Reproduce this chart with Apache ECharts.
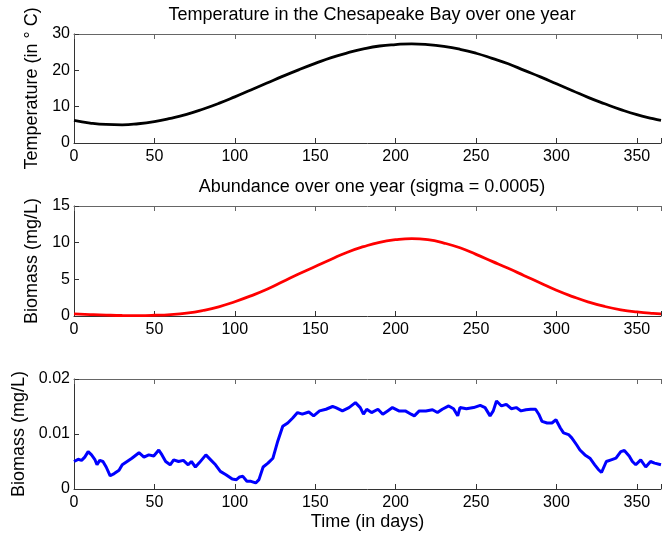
<!DOCTYPE html>
<html>
<head>
<meta charset="utf-8">
<script src="https://cdn.jsdelivr.net/npm/echarts@6/dist/echarts.min.js"></script>
<style>
  html, body { margin: 0; padding: 0; background: #fff; }
  #chart { width: 664px; height: 539px; }
</style>
</head>
<body>
<div id="chart"></div>
<script>
// Sampled days for the smooth seasonal curves
const seasonDays = [0,10,20,30,40,50,60,70,80,90,100,110,120,130,140,150,160,170,180,
  190,200,210,220,230,240,250,260,270,280,290,300,310,320,330,340,350,360,365];

// Water temperature (deg C)
const temperature = [6.2,5.5,5.1,5.0,5.3,5.9,6.8,7.9,9.3,10.9,12.7,14.6,16.5,18.4,20.2,
  21.9,23.5,24.8,25.9,26.7,27.1,27.3,27.1,26.6,25.8,24.7,23.3,21.8,20.0,18.2,16.3,14.4,
  12.5,10.8,9.2,7.8,6.7,6.2];

// Deterministic biomass (mg/L)
const biomass = [0.3,0.2,0.12,0.07,0.06,0.1,0.2,0.4,0.75,1.25,1.95,2.75,3.65,4.7,5.75,
  6.75,7.75,8.7,9.45,10.05,10.4,10.55,10.4,9.95,9.3,8.4,7.45,6.5,5.5,4.5,3.5,2.65,1.9,
  1.3,0.85,0.55,0.35,0.3];

// Stochastic biomass run: sample days and values (mg/L)
const noisyDays = [0,2.6,4.7,6.7,8.8,10.9,12.9,14.3,16,18,20,22.5,25,28,30,33,36,40.4,
  43.5,46.5,49.6,52.7,54.7,57,59.8,62,65,68,71,73,75.5,78,82,85,88,91,94.5,98.4,101,103,
  105,107.5,110,113,115,117.6,120.6,123.7,126.7,129.8,132.9,136,139,142,146,149,152.7,
  156.7,160.8,162.8,166.9,171,175,178,180,182,185,189,192,195,198,202,206,209.6,211.6,
  214.7,218.8,222.9,226,229,233,236,238.6,240,244,248.5,252.6,255.6,258.7,260.7,262.7,
  265.8,268.8,271.9,275,278,281,284,287,289,291,294.2,297.2,299.7,302.4,304.4,307.5,
  309.5,312.6,314.6,317.7,320.8,323.8,325.9,328,331,334,337,340,342.2,345.2,347.2,349.3,
  352.4,355.5,358.5,361,365];
const noisyBiomass = [0.0050,0.0054,0.0052,0.0058,0.0068,0.0062,0.0054,0.0044,0.0052,
  0.0050,0.0040,0.0024,0.0028,0.0034,0.0044,0.0050,0.0056,0.0066,0.0058,0.0062,0.0060,
  0.0071,0.0062,0.0050,0.0044,0.0053,0.0050,0.0052,0.0044,0.0050,0.0040,0.0048,0.0062,
  0.0053,0.0044,0.0032,0.0026,0.0018,0.0017,0.0022,0.0023,0.0014,0.0014,0.0011,0.0017,
  0.0040,0.0047,0.0056,0.0087,0.0114,0.0120,0.0129,0.0139,0.0136,0.0140,0.0133,0.0142,
  0.0145,0.0150,0.0148,0.0142,0.0148,0.0157,0.0148,0.0136,0.0145,0.0139,0.0145,0.0136,
  0.0142,0.0148,0.0142,0.0142,0.0136,0.0133,0.0142,0.0142,0.0144,0.0139,0.0145,0.0151,
  0.0146,0.0133,0.0148,0.0146,0.0148,0.0152,0.0148,0.0133,0.0142,0.0160,0.0151,0.0154,
  0.0146,0.0148,0.0142,0.0144,0.0145,0.0145,0.0136,0.0123,0.0120,0.0120,0.0126,0.0111,
  0.0102,0.0099,0.0093,0.0080,0.0071,0.0062,0.0056,0.0044,0.0036,0.0030,0.0050,0.0053,
  0.0056,0.0068,0.0070,0.0060,0.0050,0.0044,0.0053,0.0040,0.0050,0.0047,0.0044];

// Axis tick values
const dayTicks = [0, 50, 100, 150, 200, 250, 300, 350];
const dayMax = 365;

const FONT = 'Liberation Sans, Arial, Helvetica, sans-serif';
const AXIS_COLOR = '#333';
const TICK_SIZE = 16;
const LABEL_SIZE = 18;

const pair = (xs, ys) => xs.map((x, i) => [x, ys[i]]);

const grids = [
  { left: 74, top: 34, width: 597, height: 109 },
  { left: 74, top: 206, width: 597, height: 110 },
  { left: 74, top: 379, width: 597, height: 110 }
];

function bottomAxis(gridIndex, extra) {
  return Object.assign({
    type: 'value', gridIndex, position: 'bottom', min: 0, max: dayMax, interval: 50,
    axisLine: { show: true, lineStyle: { color: AXIS_COLOR, width: 1 } },
    axisTick: { show: true, inside: true, length: 5, lineStyle: { color: AXIS_COLOR } },
    axisLabel: {
      color: '#000', fontSize: TICK_SIZE, fontFamily: FONT, margin: 6,
      formatter: v => (dayTicks.indexOf(v) >= 0 ? String(v) : '')
    },
    splitLine: { show: false }
  }, extra || {});
}

function topAxis(gridIndex) {
  return {
    type: 'value', gridIndex, position: 'top', min: 0, max: dayMax, interval: 50,
    axisLine: { show: true, lineStyle: { color: '#666', width: 1 } },
    axisTick: { show: true, inside: true, length: 5, lineStyle: { color: '#666' } },
    axisLabel: { show: false },
    splitLine: { show: false }
  };
}

function leftAxis(gridIndex, max, interval, name, nameGap) {
  return {
    type: 'value', gridIndex, min: 0, max, interval,
    name, nameLocation: 'middle', nameGap,
    nameTextStyle: { color: '#000', fontSize: LABEL_SIZE, fontFamily: FONT },
    axisLine: { show: true, lineStyle: { color: AXIS_COLOR, width: 1 } },
    axisTick: { show: true, inside: true, length: 5, lineStyle: { color: AXIS_COLOR } },
    axisLabel: { color: '#000', fontSize: TICK_SIZE, fontFamily: FONT, margin: 4 },
    splitLine: { show: false }
  };
}

const option = {
  backgroundColor: '#fff',
  animation: false,
  grid: grids,
  xAxis: [
    bottomAxis(0), topAxis(0),
    bottomAxis(1), topAxis(1),
    bottomAxis(2, {
      name: 'Time (in days)', nameLocation: 'middle', nameGap: 24,
      nameTextStyle: { color: '#000', fontSize: LABEL_SIZE, fontFamily: FONT }
    }), topAxis(2)
  ],
  yAxis: [
    leftAxis(0, 30, 10, 'Temperature (in \u00b0 C)', 29),
    leftAxis(1, 15, 5, 'Biomass (mg/L)', 29),
    leftAxis(2, 0.02, 0.01, 'Biomass (mg/L)', 42)
  ],
  graphic: [
    { type: 'text', x: 372, y: 15, style: {
        text: 'Temperature in the Chesapeake Bay over one year',
        font: LABEL_SIZE + 'px ' + FONT, fill: '#000', textAlign: 'center', textVerticalAlign: 'middle' } },
    { type: 'text', x: 372, y: 187, style: {
        text: 'Abundance over one year (sigma = 0.0005)',
        font: LABEL_SIZE + 'px ' + FONT, fill: '#000', textAlign: 'center', textVerticalAlign: 'middle' } }
  ],
  series: [
    { type: 'line', xAxisIndex: 0, yAxisIndex: 0, data: pair(seasonDays, temperature),
      smooth: true, showSymbol: false, lineStyle: { color: '#000', width: 2.8 } },
    { type: 'line', xAxisIndex: 2, yAxisIndex: 1, data: pair(seasonDays, biomass),
      smooth: true, showSymbol: false, lineStyle: { color: '#f00', width: 2.8 } },
    { type: 'line', xAxisIndex: 4, yAxisIndex: 2, data: pair(noisyDays, noisyBiomass),
      showSymbol: false, lineStyle: { color: '#00f', width: 3 } }
  ]
};

const chart = echarts.init(document.getElementById('chart'), null, { renderer: 'canvas' });
chart.setOption(option);
</script>
</body>
</html>
